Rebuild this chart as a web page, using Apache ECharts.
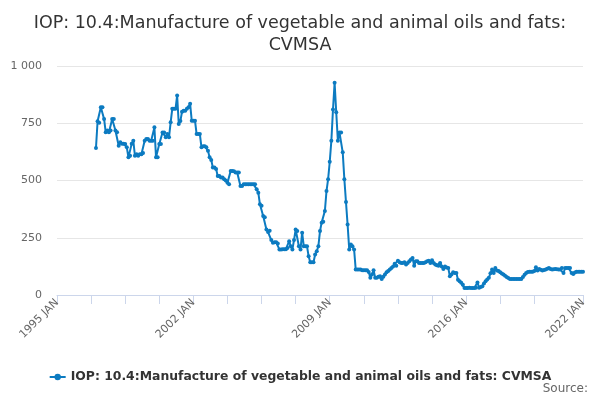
<!DOCTYPE html>
<html><head><meta charset="utf-8">
<script src="https://cdn.jsdelivr.net/npm/echarts@6/dist/echarts.min.js"></script>
<style>html,body{margin:0;padding:0;background:#fff}#c{width:600px;height:400px}</style>
</head><body><div id="c"></div>
<script>
const titleText = 'IOP: 10.4:Manufacture of vegetable and animal oils and fats:\nCVMSA';
const seriesName = 'IOP: 10.4:Manufacture of vegetable and animal oils and fats: CVMSA';
const sourceText = 'Source:';
const monthNames = ['JAN','FEB','MAR','APR','MAY','JUN','JUL','AUG','SEP','OCT','NOV','DEC'];
const firstYear = 1995;
const lastYear = 2022;
const dataStart = '1997 JAN';
const yTicks = [0, 250, 500, 750, 1000];

// Monthly values from 1997 JAN to 2022 JAN
const values = [
642,759,752,820,820,769,711,718,711,718,769,769,
718,711,652,667,660,660,659,645,601,608,660,674,
608,615,608,615,615,620,674,681,681,674,674,674,
732,601,601,659,659,710,710,689,703,689,754,813,
813,813,871,747,760,800,805,805,813,820,835,761,
761,761,703,703,703,645,650,650,645,630,601,590,
557,557,550,520,520,513,513,506,500,490,484,542,
542,540,535,535,535,476,476,484,484,484,484,484,
484,484,484,462,447,396,390,345,340,286,275,281,
240,228,230,230,225,199,199,200,200,200,205,235,
213,199,240,286,279,213,199,272,213,213,213,169,
143,143,143,177,191,213,279,316,320,367,454,506,
582,674,810,927,798,674,710,710,623,506,406,308,
199,221,213,199,111,111,111,111,108,108,108,108,
100,75,90,108,75,75,80,82,70,80,89,99,
105,111,118,125,136,128,150,143,140,140,143,133,
140,147,155,162,128,147,147,140,140,140,140,143,
147,150,140,152,140,133,130,128,140,125,114,125,
120,118,82,89,99,96,96,67,60,53,45,31,
31,31,32,31,31,31,32,55,32,35,38,50,
60,68,75,95,111,96,118,107,105,99,94,89,
84,79,74,70,70,70,70,70,70,70,70,79,
88,96,100,101,101,101,105,121,107,114,110,107,
109,111,115,118,114,111,112,114,112,111,111,118,
96,118,118,118,118,96,92,98,101,101,101,101,
101
];

const categories = [];
for (let y = firstYear; y <= lastYear; y++) {
  for (let m = 0; m < 12; m++) {
    if (y === lastYear && m > 0) break;
    categories.push(y + ' ' + monthNames[m]);
  }
}
const startIdx = categories.indexOf(dataStart);
const lastIdx = categories.length - 1;
const seriesData = values.map((v, i) => [categories[startIdx + i], v]);

const chart = echarts.init(document.getElementById('c'), null, {renderer: 'canvas'});
chart.setOption({
  animation: false,
  backgroundColor: '#ffffff',
  textStyle: {fontFamily: 'DejaVu Sans'},
  title: {
    text: titleText,
    left: 'center',
    top: 7,
    textStyle: {fontFamily: 'DejaVu Sans', fontSize: 17.5, fontWeight: 'normal', color: '#333333', lineHeight: 22}
  },
  grid: {left: 57, right: 17, top: 66, bottom: 105, containLabel: false},
  xAxis: {
    type: 'category',
    data: categories,
    boundaryGap: false,
    axisLine: {lineStyle: {color: '#ccd6eb', width: 1}},
    axisTick: {
      length: 9,
      lineStyle: {color: '#ccd6eb'},
      interval: (i) => (i % 21 === 0 && i !== 315) || i === lastIdx
    },
    axisLabel: {
      interval: (i) => i % 84 === 0 || i === lastIdx,
      rotate: 45,
      margin: 6,
      color: '#666666',
      fontSize: 11,
      fontFamily: 'DejaVu Sans'
    },
    splitLine: {show: false}
  },
  yAxis: {
    type: 'value',
    min: yTicks[0],
    max: yTicks[yTicks.length - 1],
    interval: yTicks[1] - yTicks[0],
    axisLine: {show: false},
    axisTick: {show: false},
    axisLabel: {
      margin: 15,
      color: '#666666',
      fontSize: 11,
      fontFamily: 'DejaVu Sans',
      formatter: (v) => String(v).replace(/\B(?=(\d{3})+(?!\d))/g, ' ')
    },
    splitLine: {lineStyle: {color: '#e6e6e6', width: 1}}
  },
  legend: {
    data: [seriesName],
    left: 'center',
    top: 366,
    itemWidth: 16,
    itemHeight: 8,
    itemGap: 10,
    textStyle: {fontFamily: 'DejaVu Sans', fontSize: 12.4, fontWeight: 'bold', color: '#333333'}
  },
  graphic: [{
    type: 'text',
    right: 12,
    top: 383,
    style: {text: sourceText, fill: '#666666', font: '12px "DejaVu Sans"'}
  }],
  series: [{
    name: seriesName,
    type: 'line',
    data: seriesData,
    symbol: 'circle',
    symbolSize: 4,
    showAllSymbol: true,
    lineStyle: {width: 2, color: '#0c7bc1'},
    itemStyle: {color: '#0c7bc1'}
  }]
});
</script>
</body></html>
